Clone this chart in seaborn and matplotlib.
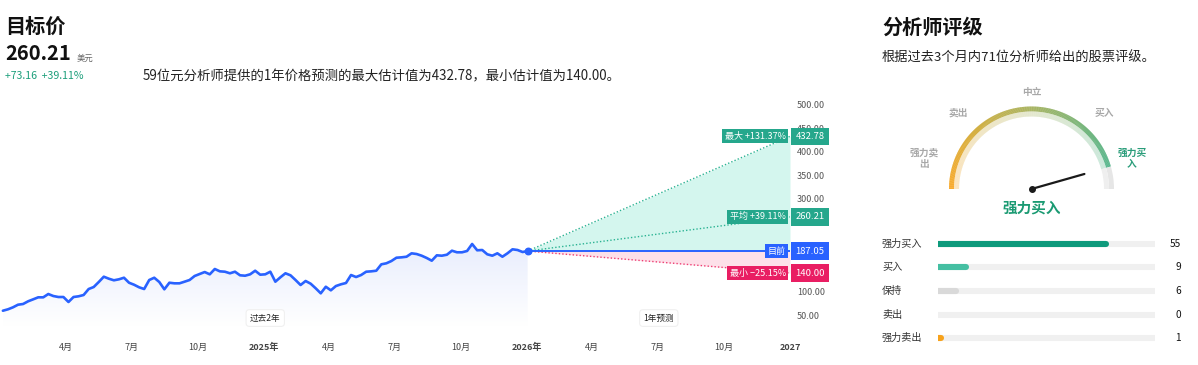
import numpy as np
import pandas as pd
import matplotlib
matplotlib.use("Agg")
import matplotlib.pyplot as plt
import matplotlib.dates as mdates
from matplotlib.colors import LinearSegmentedColormap, to_rgb
from matplotlib.patches import Wedge
from matplotlib.transforms import blended_transform_factory
import seaborn as sns

# ---------- data ----------
price = [59.2, 62.2, 66.5, 72.1, 73.6, 79.4, 83.6, 87.9, 87.9, 95.0,
         90.7, 88.6, 88.6, 77.9, 88.6, 90.1, 92.9, 105.7, 110.0, 120.7,
         132.1, 127.8, 124.4, 126.5, 129.9, 119.2, 114.9, 109.4, 105.7, 125.0,
         129.9, 120.7, 105.1, 119.2, 117.9, 117.9, 121.4, 125.0, 133.6, 137.9,
         142.1, 137.2, 148.6, 143.6, 142.8, 139.4, 142.8, 135.1, 134.2, 137.2,
         144.9, 136.4, 137.2, 142.8, 121.4, 130.8, 139.4, 135.1, 125.0, 114.3,
         122.9, 117.1, 107.2, 96.5, 110.6, 102.9, 112.1, 115.8, 118.6, 135.7,
         131.4, 135.7, 142.8, 143.6, 144.9, 158.6, 160.8, 165.7, 172.8, 173.6,
         174.9, 182.2, 180.7, 177.1, 172.2, 166.4, 177.9, 177.1, 179.2, 187.8,
         184.4, 184.4, 187.2, 202.2, 188.7, 189.3, 180.1, 177.1, 182.2, 174.9,
         182.2, 190.8, 189.3, 185.0, 187.05]
dates = pd.date_range("2024-01-05", periods=len(price), freq="7D")
current = price[-1]
target_high = 432.78
target_avg = 260.21
target_low = 140.00
forecast_end = pd.Timestamp("2027-01-01")
n_forecasters = 59

x_tick_dates = ["2024-04-01", "2024-07-01", "2024-10-01", "2025-01-01",
                "2025-04-01", "2025-07-01", "2025-10-01", "2026-01-01",
                "2026-04-01", "2026-07-01", "2026-10-01", "2027-01-01"]
x_tick_labels = ["4月", "7月", "10月", "2025年", "4月", "7月", "10月", "2026年",
                 "4月", "7月", "10月", "2027"]
y_ticks = [50, 100, 150, 200, 250, 300, 350, 400, 450, 500]

rating_labels = ["强力买入", "买入", "保持", "卖出", "强力卖出"]
rating_counts = [55, 9, 6, 0, 1]
rating_scores = [5, 4, 3, 2, 1]
rating_colors = ["#0e9a7c", "#45bfa2", "#d9d9d9", "#bdbdbd", "#f7a21b"]
gauge_labels = ["强力卖\n出", "卖出", "中立", "买入", "强力买\n入"]

# ---------- style ----------
sns.set_style("white")
plt.rcParams["font.family"] = ["Noto Sans CJK SC", "DejaVu Sans"]

fig = plt.figure(figsize=(11.98, 3.65), dpi=100)
W, H = 1198, 365

# overlay axes in pixel coordinates (y downwards) for texts and gauge
ov = fig.add_axes([0, 0, 1, 1])
ov.set_xlim(0, W)
ov.set_ylim(H, 0)
ov.axis("off")

# ---------- header left ----------
diff = target_avg - current
pct = diff / current * 100
ov.text(5, 26, "目标价", fontsize=14.5, fontweight="bold", color="#111", va="center")
ov.text(5, 53, f"{target_avg:.2f}", fontsize=14.5, fontweight="bold", color="#111", va="center")
ov.text(77, 58, "美元", fontsize=6, color="#666", va="center")
ov.text(5, 76, f"+{diff:.2f}  +{pct:.2f}%", fontsize=7.6, color="#1b9e7a", va="center")
ov.text(143, 76, f"{n_forecasters}位元分析师提供的1年价格预测的最大估计值为{target_high:.2f}，"
        f"最小估计值为{target_low:.2f}。", fontsize=9.6, color="#222", va="center")

# ---------- main price chart ----------
ybot, ytop = 17.9, 510.7
ax = fig.add_axes([0, (H - 330) / H, 790 / W, 230 / H])
ax.patch.set_alpha(0)

poly = ax.fill_between(dates, price, ybot, color="none", lw=0)
x0n, x1n = mdates.date2num(dates[0]), mdates.date2num(dates[-1])
grad = np.linspace(0, 1, 256).reshape(-1, 1)
fill_cmap = LinearSegmentedColormap.from_list("f", ["#ffffff", "#e8edfd"])
im = ax.imshow(grad, extent=[x0n, x1n, ybot + 8, max(price)], origin="lower",
               cmap=fill_cmap, aspect="auto", zorder=1)
im.set_clip_path(poly.get_paths()[0], transform=ax.transData)

# forecast cone
fx = [dates[-1], forecast_end]
ax.fill_between(fx, [current, current], [current, target_high], color="#d4f6ee", lw=0, zorder=2)
ax.fill_between(fx, [current, target_low], [current, current], color="#fde0e9", lw=0, zorder=2)
ax.plot(fx, [current, target_high], color="#2bb393", lw=1, ls=(0, (1, 1.5)), zorder=3)
ax.plot(fx, [current, target_avg], color="#2bb393", lw=1, ls=(0, (1, 1.5)), zorder=3)
ax.plot(fx, [current, target_low], color="#ee3f74", lw=1, ls=(0, (1, 1.5)), zorder=3)
ax.plot(fx, [current, current], color="#2962ff", lw=1.4, zorder=3)

sns.lineplot(x=dates, y=price, ax=ax, color="#2962ff", lw=1.9, zorder=4)
ax.scatter([dates[-1]], [current], s=22, color="#2962ff", zorder=5)

ax.set_xlim(pd.Timestamp("2024-01-01"), forecast_end)
ax.set_ylim(ybot, ytop)
ax.set_xlabel("")
ax.set_ylabel("")
for s in ax.spines.values():
    s.set_visible(False)

ax.set_xticks(pd.to_datetime(x_tick_dates))
ax.set_xticklabels(x_tick_labels)
ax.tick_params(axis="x", length=0, pad=9, labelsize=6.5, labelcolor="#444")
for lbl in ax.get_xticklabels():
    if lbl.get_text().startswith("20"):
        lbl.set_fontweight("bold")
ax.yaxis.tick_right()
ax.set_yticks(y_ticks)
ax.set_yticklabels([f"{v:.2f}" for v in y_ticks])
ax.tick_params(axis="y", length=0, pad=5, labelsize=6.5, labelcolor="#555")

# forecast tags
trans = blended_transform_factory(ax.transAxes, ax.transData)
tags = [
    (target_high, f"最大 +{(target_high / current - 1) * 100:.2f}%", "#25a78c"),
    (target_avg, f"平均 +{(target_avg / current - 1) * 100:.2f}%", "#25a78c"),
    (current, "目前", "#2962ff"),
    (target_low, f"最小 {(target_low / current - 1) * 100:.2f}%".replace("-", "−"), "#e91e63"),
]
for val, label, col in tags:
    ax.annotate(label, xy=(1, val), xycoords=trans, xytext=(-3.0, 0), textcoords="offset points",
                ha="right", va="center", fontsize=6.5, color="white", zorder=10, annotation_clip=False,
                bbox=dict(boxstyle="square,pad=0.28", fc=col, ec="none"))
    ax.annotate(f"{val:.2f}", xy=(1, val), xycoords=trans, xytext=(3.9, 0), textcoords="offset points",
                ha="left", va="center", fontsize=6.8, color="white", zorder=10, annotation_clip=False,
                bbox=dict(boxstyle="square,pad=0.45", fc=col, ec="none"))

# period badges
btrans = blended_transform_factory(ax.transData, ax.transAxes)
past_mid = dates[0] + (dates[-1] - dates[0]) / 2
fut_mid = dates[-1] + (forecast_end - dates[-1]) / 2
for xm, txt in [(past_mid, "过去2年"), (fut_mid, "1年预测")]:
    ax.text(xm, 0.052, txt, transform=btrans, ha="center", va="center", fontsize=6.2,
            color="#222", zorder=6,
            bbox=dict(boxstyle="round,pad=0.45,rounding_size=0.4", fc="white", ec="#f0f0f0", lw=0.8))

# ---------- right header ----------
ov.text(882, 27, "分析师评级", fontsize=14.5, fontweight="bold", color="#111", va="center")
ov.text(882, 58, f"根据过去3个月内{sum(rating_counts)}位分析师给出的股票评级。",
        fontsize=9.5, color="#222", va="center")

# ---------- gauge ----------
cx, cy, R = 1031.5, 189, 82.5
score = sum(c * s for c, s in zip(rating_counts, rating_scores)) / sum(rating_counts)
needle_deg = 180 - (score - 1) / 4 * 180
arc_cmap = LinearSegmentedColormap.from_list(
    "g", ["#f99d0c", "#cfa322", "#9ba94a", "#5cab6b", "#2fae88"])
white = np.array([1.0, 1.0, 1.0])
a = 180.0
step = 0.5
while a > needle_deg:
    a2 = max(a - step, needle_deg)
    t = (180 - (a + a2) / 2) / 180
    c = np.array(to_rgb(arc_cmap(t)))
    pale = c * 0.32 + white * 0.68
    ov.add_patch(Wedge((cx, cy), R, -a, -a2 + 0.05, width=5, fc=c, ec="none"))
    ov.add_patch(Wedge((cx, cy), R - 5, -a, -a2 + 0.05, width=5, fc=pale, ec="none"))
    a = a2
ov.add_patch(Wedge((cx, cy), R, -needle_deg, 0, width=5, fc="#e6e6e6", ec="none"))
ov.add_patch(Wedge((cx, cy), R - 5, -needle_deg, 0, width=5, fc="#efefef", ec="none"))

L = 55
rad = np.deg2rad(needle_deg)
ov.plot([cx, cx + L * np.cos(rad)], [cy, cy - L * np.sin(rad)], color="#1a1a1a", lw=1.6,
        solid_capstyle="round")
ov.scatter([cx], [cy], s=16, color="#1a1a1a", zorder=5)

gpos = [(924, 158), (958, 113), (1032, 92), (1104, 113), (1132, 158)]
for (gx, gy), txt in zip(gpos, gauge_labels):
    col = "#2a9d7a" if txt.startswith("强力买") else "#a8a8a8"
    ov.text(gx, gy, txt, ha="center", va="center", fontsize=7, fontweight="bold",
            color=col, linespacing=1.15)
ov.text(cx, 208, "强力买入", ha="center", va="center", fontsize=10.5, fontweight="bold",
        color="#1a9a72")

# ---------- rating bars ----------
ar = fig.add_axes([938 / W, (H - 350) / H, (1155 - 938) / W, 118 / H])
ar.axis("off")
total = sum(rating_counts)
rows = np.arange(len(rating_labels))
ar.set_xlim(0, total)
ar.set_ylim(len(rows) - 0.5, -0.5)
ar.hlines(rows, 0, total, color="#f0f0f0", lw=4.4, capstyle="round")
for r, cnt, col in zip(rows, rating_counts, rating_colors):
    if cnt > 0:
        ar.hlines(r, 0, cnt, color=col, lw=4.4, capstyle="round")
rtrans = blended_transform_factory(ov.transData, ar.transData)
for r, lab, cnt in zip(rows, rating_labels, rating_counts):
    ar.text(882, r, lab, transform=rtrans, ha="left", va="center", fontsize=7.3, color="#333")
    ar.text(1181, r, str(cnt), transform=rtrans, ha="right", va="center", fontsize=7.3, color="#111")

fig.savefig("out.png", dpi=100)
